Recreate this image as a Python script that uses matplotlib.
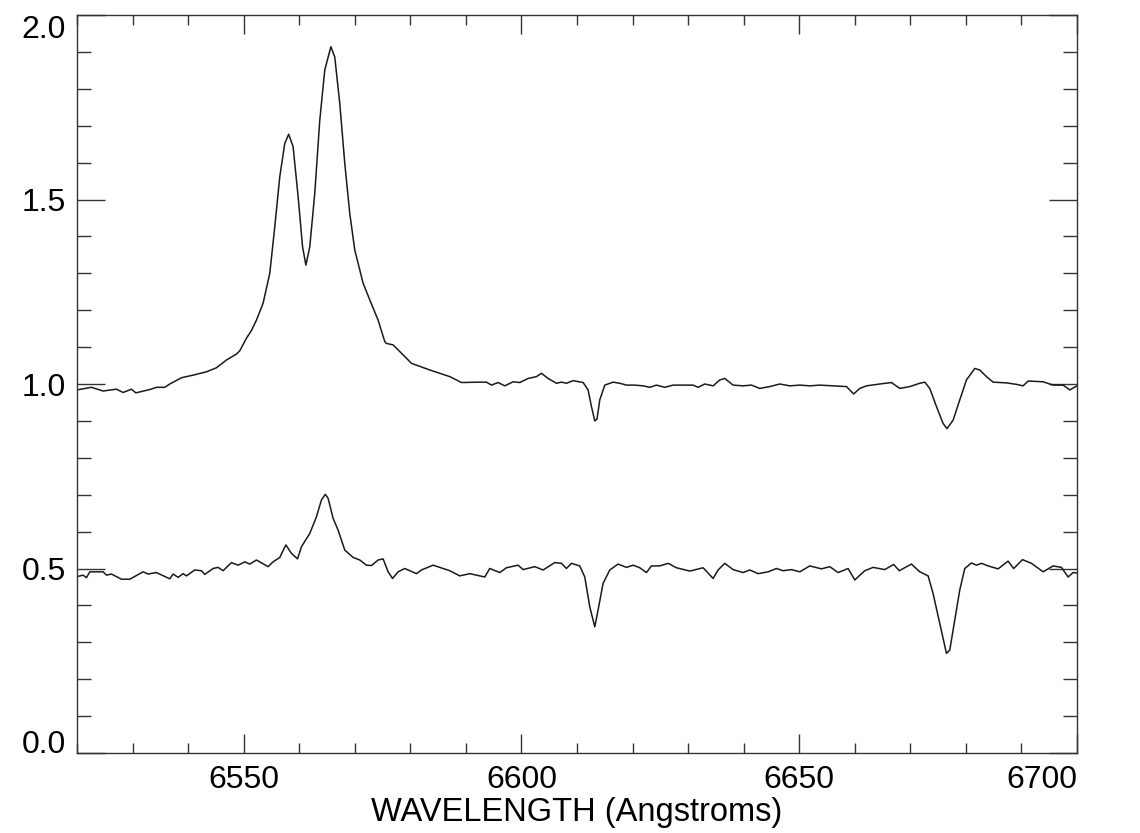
import matplotlib
matplotlib.use("Agg")
import matplotlib.pyplot as plt
from matplotlib.ticker import MultipleLocator

plt.rcParams['font.family'] = ['Liberation Sans', 'DejaVu Sans']

wave_top = [6520.0, 6522.6, 6524.7, 6527.1, 6528.3, 6529.8, 6530.6, 6533.1, 6534.3, 6535.8,
            6536.7, 6538.8, 6540.9, 6543.3, 6545.1, 6546.9, 6548.7, 6549.3, 6550.5, 6551.4,
            6552.3, 6553.5, 6554.7, 6555.6, 6556.5, 6557.4, 6558.1, 6558.9, 6559.8, 6560.6, 6561.2,
            6561.9, 6562.8, 6563.7, 6564.6, 6565.7, 6566.4, 6567.3, 6568.2, 6569.1, 6570.0,
            6571.5, 6572.7, 6574.2, 6575.4, 6575.7, 6576.9, 6578.7, 6580.2, 6583.5, 6587.1,
            6589.2, 6592.5, 6593.7, 6594.6, 6595.8, 6597.0, 6598.5, 6599.7, 6601.2, 6602.7,
            6603.6, 6604.8, 6606.3, 6607.2, 6608.1, 6609.3, 6611.1, 6612.0, 6612.6, 6613.2,
            6613.6, 6614.1, 6615.0, 6616.5, 6617.7, 6618.9, 6620.4, 6621.9, 6623.1, 6624.3,
            6625.8, 6627.3, 6629.1, 6630.9, 6631.8, 6633.0, 6634.5, 6635.7, 6636.6, 6638.1,
            6639.9, 6641.4, 6642.9, 6644.7, 6646.5, 6648.3, 6650.1, 6651.9, 6653.7, 6656.1,
            6658.5, 6659.8, 6660.9, 6662.1, 6664.5, 6666.6, 6668.1, 6669.9, 6671.7, 6672.6,
            6673.5, 6674.7, 6675.9, 6676.6, 6677.7, 6678.9, 6680.1, 6681.6, 6682.5, 6683.7,
            6684.9, 6687.3, 6689.1, 6690.3, 6691.2, 6693.9, 6695.7, 6697.5, 6698.7, 6700.0]
flux_top = [0.984, 0.991, 0.981, 0.986, 0.977, 0.986, 0.976, 0.985, 0.991, 0.991,
            1.000, 1.017, 1.024, 1.033, 1.044, 1.065, 1.081, 1.090, 1.124, 1.145,
            1.173, 1.219, 1.300, 1.426, 1.562, 1.652, 1.677, 1.643, 1.508, 1.372, 1.322,
            1.372, 1.517, 1.715, 1.851, 1.914, 1.886, 1.760, 1.598, 1.462, 1.363,
            1.273, 1.228, 1.173, 1.115, 1.110, 1.106, 1.079, 1.056, 1.038, 1.020,
            1.004, 1.005, 1.005, 0.997, 1.004, 0.995, 1.006, 1.004, 1.015, 1.020,
            1.029, 1.015, 1.002, 1.005, 1.002, 1.009, 1.004, 0.984, 0.939, 0.900,
            0.905, 0.957, 0.997, 1.005, 1.002, 0.997, 0.997, 0.995, 0.991, 0.997,
            0.991, 0.997, 0.997, 0.997, 0.991, 1.000, 0.995, 1.011, 1.015, 0.997,
            0.995, 0.997, 0.988, 0.993, 1.000, 0.995, 0.997, 0.995, 0.997, 0.995,
            0.993, 0.973, 0.988, 0.995, 1.000, 1.004, 0.988, 0.993, 1.002, 1.005,
            0.988, 0.939, 0.893, 0.879, 0.902, 0.957, 1.011, 1.042, 1.038, 1.020,
            1.005, 1.003, 0.999, 0.995, 1.008, 1.006, 0.997, 0.997, 0.984, 0.995]

wave_bottom = [6520.0, 6521.1, 6521.7, 6522.3, 6524.7, 6525.3, 6526.2, 6528.0, 6529.5, 6531.9,
               6532.8, 6534.3, 6536.7, 6537.3, 6538.2, 6539.1, 6539.7, 6541.2, 6542.4, 6543.0,
               6544.5, 6545.4, 6546.3, 6547.8, 6549.0, 6550.2, 6551.1, 6552.3, 6554.4, 6555.3,
               6556.5, 6557.6, 6558.6, 6559.7, 6560.4, 6561.9, 6563.1, 6564.0, 6564.7, 6565.2,
               6566.1, 6567.0, 6568.2, 6569.7, 6570.9, 6572.1, 6573.0, 6574.2, 6575.1, 6576.0,
               6576.8, 6577.8, 6579.0, 6579.9, 6581.1, 6582.0, 6584.1, 6587.1, 6588.9, 6590.7,
               6593.4, 6594.3, 6596.1, 6597.3, 6599.4, 6600.3, 6602.4, 6603.9, 6606.0, 6607.2,
               6608.1, 6609.0, 6610.5, 6611.4, 6612.3, 6613.2, 6613.8, 6614.7, 6615.9, 6617.4,
               6618.9, 6620.1, 6621.3, 6622.5, 6623.4, 6624.9, 6626.4, 6627.9, 6630.3, 6632.7,
               6634.5, 6635.4, 6636.6, 6638.1, 6639.9, 6641.1, 6642.6, 6644.4, 6645.9, 6647.1,
               6648.6, 6650.1, 6651.9, 6654.0, 6655.5, 6657.0, 6658.8, 6660.0, 6661.8, 6663.3,
               6665.4, 6667.0, 6668.0, 6670.2, 6671.7, 6673.2, 6674.1, 6675.3, 6676.5, 6677.1,
               6678.0, 6678.9, 6679.8, 6681.0, 6681.9, 6682.8, 6684.0, 6685.8, 6687.6, 6688.6,
               6690.2, 6691.8, 6693.9, 6695.7, 6697.2, 6698.4, 6699.3, 6700.0]
flux_bottom = [0.478, 0.482, 0.475, 0.491, 0.491, 0.482, 0.485, 0.471, 0.471, 0.491,
               0.485, 0.489, 0.472, 0.485, 0.476, 0.486, 0.480, 0.496, 0.494, 0.484,
               0.500, 0.503, 0.494, 0.516, 0.509, 0.518, 0.512, 0.523, 0.505, 0.518,
               0.530, 0.564, 0.541, 0.526, 0.559, 0.595, 0.640, 0.686, 0.701, 0.690,
               0.636, 0.604, 0.550, 0.530, 0.523, 0.509, 0.508, 0.523, 0.526, 0.491,
               0.473, 0.491, 0.500, 0.494, 0.486, 0.496, 0.509, 0.494, 0.480, 0.486,
               0.477, 0.500, 0.489, 0.502, 0.509, 0.497, 0.505, 0.496, 0.516, 0.514,
               0.500, 0.514, 0.507, 0.477, 0.396, 0.342, 0.388, 0.460, 0.496, 0.512,
               0.503, 0.509, 0.502, 0.489, 0.507, 0.507, 0.514, 0.502, 0.493, 0.502,
               0.473, 0.496, 0.514, 0.497, 0.489, 0.496, 0.486, 0.491, 0.500, 0.494,
               0.497, 0.491, 0.507, 0.499, 0.505, 0.489, 0.500, 0.469, 0.494, 0.503,
               0.497, 0.511, 0.494, 0.512, 0.491, 0.480, 0.432, 0.351, 0.270, 0.279,
               0.360, 0.442, 0.500, 0.515, 0.509, 0.514, 0.507, 0.499, 0.520, 0.500,
               0.524, 0.514, 0.491, 0.507, 0.503, 0.477, 0.489, 0.488]

x_ticks = [6550, 6600, 6650, 6700]
y_ticks = [0.0, 0.5, 1.0, 1.5, 2.0]
y_tick_labels = ['0.0', '0.5', '1.0', '1.5', '2.0']
x_label = 'WAVELENGTH (Angstroms)'

fig = plt.figure(figsize=(11.4, 8.33), dpi=100)
ax = fig.add_axes([77/1140, 80/833, 1000/1140, 738/833])

line_kw = dict(color='#1a1a1a', lw=1.1, solid_joinstyle='round')
ax.plot(wave_top, flux_top, **line_kw)
ax.plot(wave_bottom, flux_bottom, **line_kw)

ax.set_xlim(6520, 6700)
ax.set_ylim(0.0, 2.0)

ax.set_xticks(x_ticks)
ax.set_xticklabels([str(t) for t in x_ticks])
ax.xaxis.set_minor_locator(MultipleLocator(10))
ax.set_yticks(y_ticks)
ax.set_yticklabels(y_tick_labels)
ax.yaxis.set_minor_locator(MultipleLocator(0.1))

ax.tick_params(axis='both', which='both', direction='in', top=True, right=True,
               color='#333333', width=1.0, labelsize=23, labelcolor='black')
ax.tick_params(axis='x', which='major', length=14, pad=9)
ax.tick_params(axis='x', which='minor', length=7)
ax.tick_params(axis='y', which='major', length=20, pad=8)
ax.tick_params(axis='y', which='minor', length=10)

# edge labels nudged inward as in the reference
ylabs = ax.get_yticklabels()
ylabs[0].set_verticalalignment('baseline')
ylabs[-1].set_verticalalignment('top')
xlabs = ax.get_xticklabels()
xlabs[-1].set_horizontalalignment('right')

for sp in ax.spines.values():
    sp.set_color('#333333')
    sp.set_linewidth(1.0)

ax.set_xlabel(x_label, fontsize=23.5, labelpad=1)

fig.savefig('out.png', dpi=100)
